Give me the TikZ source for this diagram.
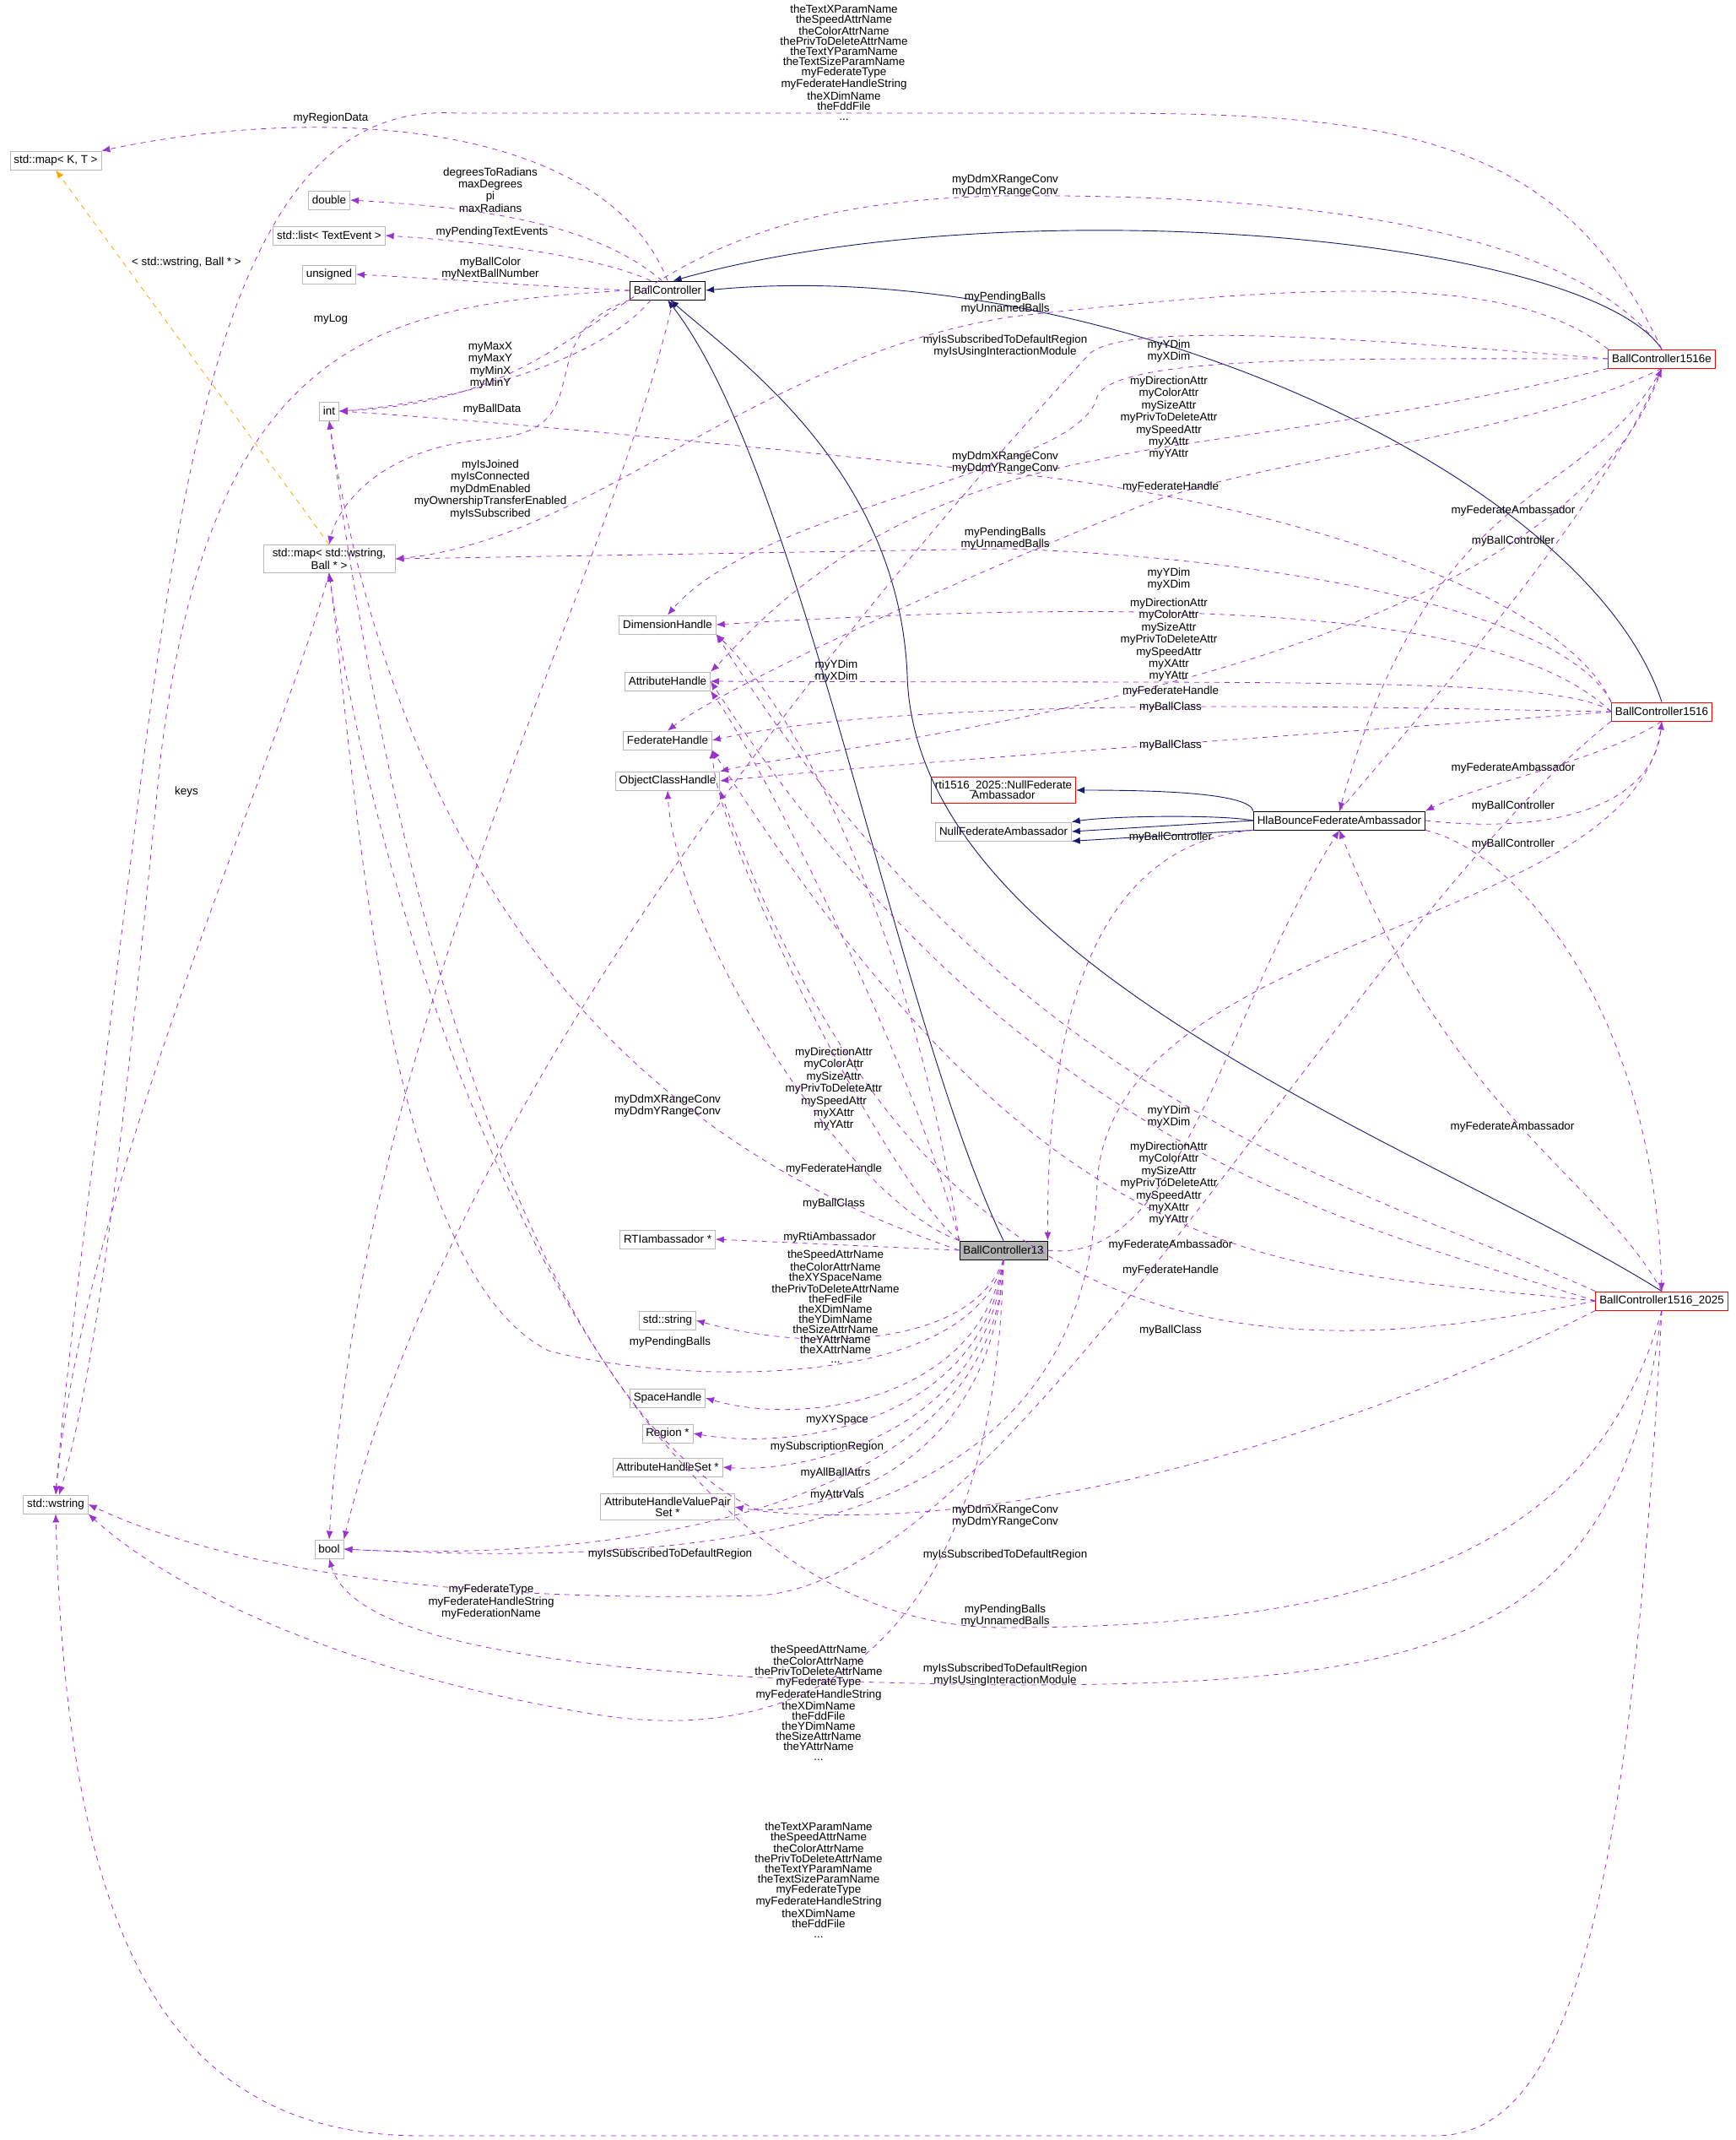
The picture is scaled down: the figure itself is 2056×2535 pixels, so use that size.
\documentclass[tikz,border=0pt]{standalone}
\usepackage{fontspec}
\setmainfont{Liberation Sans}
\usetikzlibrary{arrows.meta}
\definecolor{edgepurple}{RGB}{154,50,205}
\definecolor{navy}{RGB}{25,25,112}
\definecolor{tmplorange}{RGB}{255,165,0}
\tikzset{
  cls/.style={draw=gray!55,fill=white,font=\fontsize{6.7}{6.2}\selectfont,inner sep=2.2pt,minimum height=11pt,align=center},
  redcls/.style={cls,draw=red},
  blkcls/.style={cls,draw=black},
  maincls/.style={cls,draw=black,fill=gray!60},
  dep/.style={-{Latex[length=5pt,width=4pt]},dashed,edgepurple,line width=0.4pt},
  inh/.style={-{Latex[length=5pt,width=4pt]},navy,line width=0.45pt},
  tmpl/.style={-{Latex[length=5pt,width=4pt]},dashed,tmplorange,line width=0.4pt},
  lbl/.style={font=\fontsize{6.7}{5.95}\selectfont,align=center,inner sep=0pt}
}
\begin{document}
\begin{tikzpicture}[x=0.5pt,y=-0.5pt]
    \useasboundingbox (0,0) rectangle (2056,2535);
    % classes
    \node[cls] (mapKT) at (66,190) {std::map< K, T >};
    \node[cls] (dbl) at (390,237) {double};
    \node[cls] (lst) at (390,279) {std::list< TextEvent >};
    \node[cls] (uns) at (390,325) {unsigned};
    \node[blkcls] (bc) at (791,344) {BallController};
    \node[cls] (int) at (390,487) {int};
    \node[cls,minimum width=78pt] (mapWB) at (390,662) {std::map< std::wstring,\\Ball * >};
    \node[cls] (dim) at (791,740) {DimensionHandle};
    \node[cls] (attr) at (791,807) {AttributeHandle};
    \node[cls] (fed) at (791,877) {FederateHandle};
    \node[cls] (och) at (791,925) {ObjectClassHandle};
    \node[redcls] (b16e) at (1969,425) {BallController1516e};
    \node[redcls] (b16) at (1969,843) {BallController1516};
    \node[redcls] (nfa25) at (1189,936) {rti1516\_2025::NullFederate\\Ambassador};
    \node[cls] (nfa) at (1189,985) {NullFederateAmbassador};
    \node[blkcls] (hla) at (1587,972) {HlaBounceFederateAmbassador};
    \node[maincls] (b13) at (1189,1481) {BallController13};
    \node[redcls] (b25) at (1969,1541) {BallController1516\_2025};
    \node[cls] (rti) at (791,1468) {RTIambassador *};
    \node[cls] (str) at (791,1564) {std::string};
    \node[cls] (spc) at (791,1656) {SpaceHandle};
    \node[cls] (reg) at (791,1698) {Region *};
    \node[cls] (ahs) at (791,1738) {AttributeHandleSet *};
    \node[cls] (ahv) at (791,1785) {AttributeHandleValuePair\\Set *};
    \node[cls] (wstr) at (66,1782) {std::wstring};
    \node[cls] (bool) at (390,1835) {bool};

    % inheritance
    \draw[inh] (b16e.north) .. controls (1880,280) and (1200,220) .. (bc.60);
    \draw[inh] (b16.north) .. controls (1880,560) and (1300,300) .. (bc.east);
    \draw[inh] (b13.north) .. controls (1060,1200) and (950,560) .. (bc.south);
    \draw[inh] (b25.north) .. controls (1700,1360) and (1085,1150) .. (1075,800) .. controls (1065,560) and (880,430) .. (bc.-75);
    \draw[inh] (hla.north west) .. controls (1480,940) and (1380,936) .. (nfa25.east);
    \draw[inh] (hla.west) .. controls (1450,965) and (1320,966) .. (nfa.north east);
    \draw[inh] (hla.west) -- (nfa.east);
    \draw[inh] (hla.south west) -- (nfa.south east);

    % template
    \draw[tmpl] (mapWB.north) -- (mapKT.south);
    \node[lbl] at (221,311) {< std::wstring, Ball * >};

    % BallController members
    \draw[dep] (bc.north) .. controls (720,150) and (400,120) .. (mapKT.north east);
    \node[lbl] at (392,140) {myRegionData};
    \draw[dep] (bc.120) .. controls (700,260) and (550,245) .. (dbl.east);
    \node[lbl] at (581,225) {degreesToRadians\\maxDegrees\\pi\\maxRadians};
    \draw[dep] (bc.150) .. controls (700,300) and (550,285) .. (lst.east);
    \node[lbl] at (583,275) {myPendingTextEvents};
    \draw[dep] (bc.west) .. controls (650,340) and (520,330) .. (uns.east);
    \node[lbl] at (581,318) {myBallColor\\myNextBallNumber};
    \draw[dep] (bc.west) .. controls (450,360) and (250,400) .. (190,900) .. controls (150,1300) and (120,1600) .. (wstr.70);
    \node[lbl] at (392,378) {myLog};
    \draw[dep] (bc.210) .. controls (700,440) and (500,480) .. (int.east);
    \node[lbl] at (581,433) {myMaxX\\myMaxY\\myMinX\\myMinY};
    \draw[dep] (bc.south west) .. controls (620,400) and (720,510) .. (580,520) .. controls (450,530) and (400,600) .. (mapWB.north);
    \node[lbl] at (583,485) {myBallData};
    \draw[dep] (bc.-60) .. controls (720,700) and (430,1200) .. (bool.north);
    \node[lbl] at (581,580) {myIsJoined\\myIsConnected\\myDdmEnabled\\myOwnershipTransferEnabled\\myIsSubscribed};

    \draw[dep] (mapWB.south) .. controls (330,900) and (100,1400) .. (wstr.north);
    \node[lbl] at (221,938) {keys};

    % BallController1516e members
    \draw[dep] (b16e.north) .. controls (1850,160) and (1650,134) .. (1300,134) -- (540,134) .. controls (300,120) and (230,450) .. (170,900) .. controls (120,1300) and (80,1600) .. (wstr.north);
    \node[lbl] at (1000,74) {theTextXParamName\\theSpeedAttrName\\theColorAttrName\\thePrivToDeleteAttrName\\theTextYParamName\\theTextSizeParamName\\myFederateType\\myFederateHandleString\\theXDimName\\theFddFile\\...};
    \draw[dep] (b16e.north) .. controls (1850,250) and (1450,230) .. (1191,232) .. controls (700,240) and (750,470) .. (int.east);
    \node[lbl] at (1191,220) {myDdmXRangeConv\\myDdmYRangeConv};
    \draw[dep] (b16e.north west) .. controls (1800,330) and (1600,330) .. (1200,375) .. controls (900,420) and (700,640) .. (mapWB.east);
    \node[lbl] at (1191,359) {myPendingBalls\\myUnnamedBalls};
    \draw[dep] (b16e.west) .. controls (1600,400) and (1330,380) .. (1290,420) .. controls (1200,520) and (560,1200) .. (bool.north east);
    \node[lbl] at (1191,410) {myIsSubscribedToDefaultRegion\\myIsUsingInteractionModule};
    \draw[dep] (b16e.west) .. controls (1600,425) and (1320,420) .. (1300,470) .. controls (1280,560) and (900,600) .. (dim.north);
    \node[lbl] at (1385,416) {myYDim\\myXDim};
    \draw[dep] (b16e.south west) .. controls (1650,500) and (1400,520) .. (1300,545) .. controls (1000,600) and (880,760) .. (attr.north east);
    \node[lbl] at (1385,495) {myDirectionAttr\\myColorAttr\\mySizeAttr\\myPrivToDeleteAttr\\mySpeedAttr\\myXAttr\\myYAttr};
    \draw[dep] (b16e.south) .. controls (1800,520) and (1500,540) .. (1350,600) .. controls (1100,700) and (850,820) .. (fed.north);
    \node[lbl] at (1387,577) {myFederateHandle};
    \draw[dep] (b16e.south) .. controls (1880,600) and (1700,560) .. (hla.north);
    \node[lbl] at (1793,605) {myFederateAmbassador};
    \draw[dep] (hla.north) .. controls (1680,850) and (1900,600) .. (b16e.south);
    \node[lbl] at (1793,641) {myBallController};
    \draw[dep] (b16e.south) .. controls (1850,800) and (1000,880) .. (och.north east);

    % BallController1516 members
    \draw[dep] (b16.north west) .. controls (1850,700) and (1500,590) .. (1191,560) .. controls (800,520) and (600,500) .. (int.east);
    \node[lbl] at (1191,548) {myDdmXRangeConv\\myDdmYRangeConv};
    \draw[dep] (b16.north west) .. controls (1850,720) and (1500,660) .. (1191,650) -- (mapWB.east);
    \node[lbl] at (1191,638) {myPendingBalls\\myUnnamedBalls};
    \draw[dep] (b16.west) .. controls (1800,740) and (1500,700) .. (dim.east);
    \node[lbl] at (1385,686) {myYDim\\myXDim};
    \draw[dep] (b16.west) .. controls (1850,800) and (1500,810) .. (attr.east);
    \node[lbl] at (1385,758) {myDirectionAttr\\myColorAttr\\mySizeAttr\\myPrivToDeleteAttr\\mySpeedAttr\\myXAttr\\myYAttr};
    \draw[dep] (b16.west) .. controls (1700,840) and (1100,820) .. (fed.east);
    \node[lbl] at (1387,819) {myFederateHandle};
    \draw[dep] (b16.west) .. controls (1700,860) and (1100,900) .. (och.east);
    \node[lbl] at (1387,838) {myBallClass};
    \node[lbl] at (1387,883) {myBallClass};
    \draw[dep] (b16.south) .. controls (1900,900) and (1750,930) .. (hla.north east);
    \node[lbl] at (1793,910) {myFederateAmbassador};
    \draw[dep] (hla.east) .. controls (1850,990) and (1960,950) .. (b16.south);
    \node[lbl] at (1793,955) {myBallController};
    \draw[dep] (b16.south) .. controls (1950,1100) and (1320,1100) .. (1300,1400) .. controls (1290,1800) and (900,1860) .. (bool.east);
    \node[lbl] at (1191,1842) {myIsSubscribedToDefaultRegion};
    \draw[dep] (b16.south west) .. controls (1600,1100) and (1200,1870) .. (900,1890) .. controls (500,1900) and (250,1850) .. (wstr.east);
    \node[lbl] at (582,1898) {myFederateType\\myFederateHandleString\\myFederationName};

    % HlaBounceFederateAmbassador members
    \draw[dep] (hla.south east) .. controls (1800,1010) and (1960,1200) .. (b25.north);
    \node[lbl] at (1793,1000) {myBallController};
    \draw[dep] (hla.south west) .. controls (1300,1000) and (1240,1200) .. (b13.north east);
    \node[lbl] at (1387,992) {myBallController};

    % BallController13 members
    \draw[dep] (b13.west) -- (rti.east);
    \node[lbl] at (983,1466) {myRtiAmbassador};
    \draw[dep] (b13.south) .. controls (1150,1600) and (950,1600) .. (str.east);
    \node[lbl] at (990,1548) {theSpeedAttrName\\theColorAttrName\\theXYSpaceName\\thePrivToDeleteAttrName\\theFedFile\\theXDimName\\theYDimName\\theSizeAttrName\\theYAttrName\\theXAttrName\\...};
    \draw[dep] (b13.south) .. controls (1150,1650) and (800,1640) .. (650,1600) .. controls (450,1500) and (420,900) .. (mapWB.south);
    \node[lbl] at (794,1590) {myPendingBalls};
    \draw[dep] (b13.south) .. controls (1160,1660) and (950,1690) .. (spc.east);
    \node[lbl] at (992,1682) {myXYSpace};
    \draw[dep] (b13.south) .. controls (1165,1680) and (950,1720) .. (reg.east);
    \node[lbl] at (980,1714) {mySubscriptionRegion};
    \draw[dep] (b13.south) .. controls (1170,1700) and (950,1745) .. (ahs.east);
    \node[lbl] at (990,1745) {myAllBallAttrs};
    \draw[dep] (b13.south) .. controls (1180,1750) and (950,1800) .. (ahv.east);
    \node[lbl] at (992,1771) {myAttrVals};
    \draw[dep] (b13.south) .. controls (1180,1800) and (700,1850) .. (bool.east);
    \node[lbl] at (794,1841) {myIsSubscribedToDefaultRegion};
    \draw[dep] (b13.west) .. controls (900,1400) and (500,1200) .. (int.south);
    \node[lbl] at (791,1310) {myDdmXRangeConv\\myDdmYRangeConv};
    \draw[dep] (b13.north west) .. controls (1080,1100) and (950,850) .. (dim.south east);
    \node[lbl] at (991,795) {myYDim\\myXDim};
    \draw[dep] (b13.north west) .. controls (1080,1250) and (900,900) .. (attr.south east);
    \node[lbl] at (988,1290) {myDirectionAttr\\myColorAttr\\mySizeAttr\\myPrivToDeleteAttr\\mySpeedAttr\\myXAttr\\myYAttr};
    \draw[dep] (b13.north west) .. controls (1050,1400) and (850,1000) .. (fed.south east);
    \node[lbl] at (988,1385) {myFederateHandle};
    \draw[dep] (b13.north west) .. controls (1000,1420) and (800,1100) .. (och.south);
    \node[lbl] at (988,1426) {myBallClass};
    \draw[dep] (b13.east) .. controls (1400,1500) and (1450,1200) .. (hla.south);
    \node[lbl] at (1387,1475) {myFederateAmbassador};
    \draw[dep] (b13.south) .. controls (1180,1900) and (1000,2080) .. (700,2030) .. controls (400,1980) and (200,1880) .. (wstr.south east);
    \node[lbl] at (970,2017) {theSpeedAttrName\\theColorAttrName\\thePrivToDeleteAttrName\\myFederateType\\myFederateHandleString\\theXDimName\\theFddFile\\theYDimName\\theSizeAttrName\\theYAttrName\\...};

    % BallController1516_2025 members
    \draw[dep] (b25.north west) .. controls (1600,1400) and (1200,1310) .. (dim.south east);
    \node[lbl] at (1385,1323) {myYDim\\myXDim};
    \draw[dep] (b25.west) .. controls (1600,1450) and (1200,1360) .. (attr.east);
    \node[lbl] at (1385,1402) {myDirectionAttr\\myColorAttr\\mySizeAttr\\myPrivToDeleteAttr\\mySpeedAttr\\myXAttr\\myYAttr};
    \draw[dep] (b25.north) .. controls (1900,1400) and (1720,1320) .. (hla.south);
    \node[lbl] at (1792,1335) {myFederateAmbassador};
    \draw[dep] (b25.west) .. controls (1500,1500) and (1250,1520) .. (fed.south east);
    \node[lbl] at (1387,1505) {myFederateHandle};
    \draw[dep] (b25.west) .. controls (1500,1620) and (1100,1620) .. (och.south east);
    \node[lbl] at (1387,1576) {myBallClass};
    \draw[dep] (b25.south west) .. controls (1600,1700) and (1200,1820) .. (900,1790) .. controls (700,1700) and (500,1300) .. (int.south);
    \node[lbl] at (1191,1796) {myDdmXRangeConv\\myDdmYRangeConv};
    \draw[dep] (b25.south) .. controls (1900,1800) and (1700,1928) .. (1191,1928) .. controls (700,1930) and (450,1100) .. (mapWB.south);
    \node[lbl] at (1191,1914) {myPendingBalls\\myUnnamedBalls};
    \draw[dep] (b25.south) .. controls (1920,1950) and (1700,1996) .. (1191,1996) .. controls (700,1990) and (420,1950) .. (bool.south);
    \node[lbl] at (1191,1984) {myIsSubscribedToDefaultRegion\\myIsUsingInteractionModule};
    \draw[dep] (b25.south) .. controls (1930,2300) and (1850,2530) .. (1700,2530) -- (500,2530) .. controls (200,2530) and (80,2300) .. (wstr.south);
    \node[lbl] at (970,2227) {theTextXParamName\\theSpeedAttrName\\theColorAttrName\\thePrivToDeleteAttrName\\theTextYParamName\\theTextSizeParamName\\myFederateType\\myFederateHandleString\\theXDimName\\theFddFile\\...};
\end{tikzpicture}
\end{document}
